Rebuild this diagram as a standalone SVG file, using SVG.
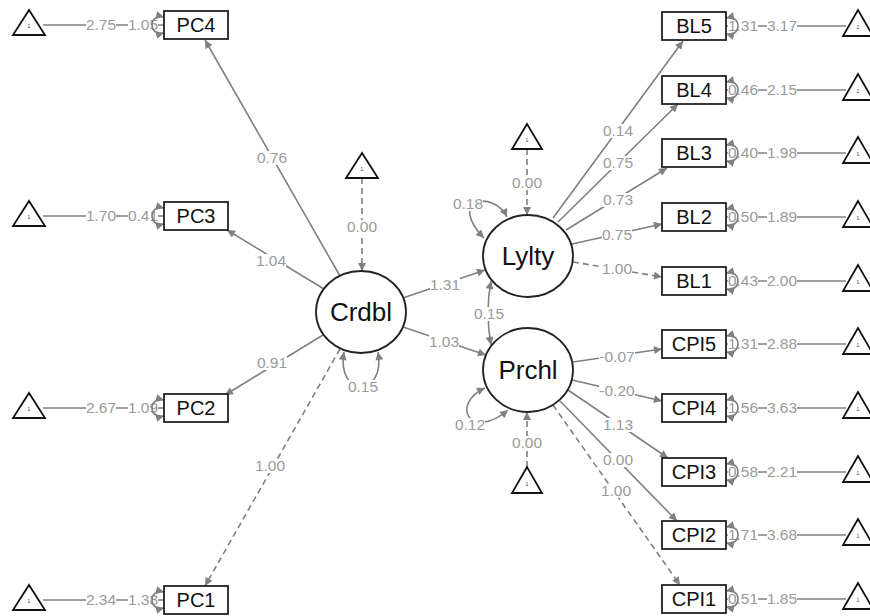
<svg xmlns="http://www.w3.org/2000/svg" width="870" height="616" viewBox="0 0 870 616">
<defs>
<marker id="a" viewBox="0 0 10 10" refX="10" refY="5" markerWidth="10" markerHeight="8" markerUnits="userSpaceOnUse" orient="auto-start-reverse"><path d="M0,0 L10,5 L0,10 z" fill="#808080"/></marker>
</defs>
<style>
.e{stroke:#808080;stroke-width:1.6;fill:none}
.d{stroke-dasharray:6,4}
.ah{marker-end:url(#a)}
.bh{marker-start:url(#a);marker-end:url(#a)}
.bg{fill:#fff}
.lb{font-family:"Liberation Sans",Arial,sans-serif;font-size:15.5px;fill:#9a9a9a;text-anchor:middle}
.box{fill:#fff;stroke:#222;stroke-width:1.8}
.tri{fill:#fff;stroke:#111;stroke-width:1.8}
.lat{fill:#fff;stroke:#222;stroke-width:1.8}
.bt{font-family:"Liberation Sans",Arial,sans-serif;font-size:20px;fill:#111;text-anchor:middle}
.lt{font-family:"Liberation Sans",Arial,sans-serif;font-size:26px;fill:#111;text-anchor:middle}
.one{font-family:"Liberation Sans",Arial,sans-serif;font-size:5px;fill:#333;text-anchor:middle}
</style>
<g id="connectors">
<line class="e" x1="43" y1="25" x2="164" y2="25"/>
<line class="e" x1="43" y1="216" x2="164" y2="216"/>
<line class="e" x1="43" y1="408" x2="164" y2="408"/>
<line class="e" x1="43" y1="600" x2="164" y2="600"/>
<line class="e" x1="726" y1="26" x2="846" y2="26"/>
<line class="e" x1="726" y1="90" x2="846" y2="90"/>
<line class="e" x1="726" y1="153" x2="846" y2="153"/>
<line class="e" x1="726" y1="217" x2="846" y2="217"/>
<line class="e" x1="726" y1="281" x2="846" y2="281"/>
<line class="e" x1="726" y1="344" x2="846" y2="344"/>
<line class="e" x1="726" y1="408" x2="846" y2="408"/>
<line class="e" x1="726" y1="472" x2="846" y2="472"/>
<line class="e" x1="726" y1="535" x2="846" y2="535"/>
<line class="e" x1="726" y1="599" x2="846" y2="599"/>
<line class="e d ah" x1="362" y1="178" x2="362" y2="271"/>
<line class="e d ah" x1="527" y1="149" x2="527" y2="215"/>
<line class="e d ah" x1="527" y1="467" x2="527" y2="412"/>
<line class="e ah" x1="340" y1="276" x2="205" y2="40"/>
<line class="e ah" x1="324" y1="289" x2="227" y2="230"/>
<line class="e ah" x1="323" y1="335" x2="225" y2="395"/>
<line class="e d ah" x1="340" y1="349" x2="205" y2="586"/>
<line class="e ah" x1="403" y1="298" x2="485" y2="270"/>
<line class="e ah" x1="403" y1="327" x2="486" y2="355"/>
<line class="e ah" x1="553" y1="218" x2="683" y2="41"/>
<line class="e ah" x1="558" y1="222" x2="678" y2="104"/>
<line class="e ah" x1="566" y1="230" x2="667" y2="168"/>
<line class="e ah" x1="572" y1="244" x2="662" y2="224"/>
<line class="e d ah" x1="573" y1="262" x2="662" y2="277"/>
<line class="e ah" x1="573" y1="362" x2="662" y2="349"/>
<line class="e ah" x1="572" y1="380" x2="662" y2="401"/>
<line class="e ah" x1="568" y1="390" x2="668" y2="458"/>
<line class="e ah" x1="560" y1="401" x2="677" y2="521"/>
<line class="e d ah" x1="553" y1="405" x2="680" y2="585"/>
<path class="e bh" d="M344,352 C336,398 386,398 378,352"/>
<path class="e bh" d="M507,217 C494,190 446,198 484,238"/>
<path class="e bh" d="M485,388 C450,404 470,442 508,410"/>
<path class="e bh" d="M491,281 Q485,312 491,345"/>
<g class="bg">
<rect x="86" y="18" width="30" height="14"/><rect x="128" y="18" width="30" height="14"/>
<rect x="86" y="209" width="30" height="14"/><rect x="128" y="209" width="30" height="14"/>
<rect x="86" y="401" width="30" height="14"/><rect x="128" y="401" width="30" height="14"/>
<rect x="86" y="593" width="30" height="14"/><rect x="128" y="593" width="30" height="14"/>
<rect x="728" y="19" width="30" height="14"/><rect x="767" y="19" width="30" height="14"/>
<rect x="728" y="83" width="30" height="14"/><rect x="767" y="83" width="30" height="14"/>
<rect x="728" y="146" width="30" height="14"/><rect x="767" y="146" width="30" height="14"/>
<rect x="728" y="210" width="30" height="14"/><rect x="767" y="210" width="30" height="14"/>
<rect x="728" y="274" width="30" height="14"/><rect x="767" y="274" width="30" height="14"/>
<rect x="728" y="337" width="30" height="14"/><rect x="767" y="337" width="30" height="14"/>
<rect x="728" y="401" width="30" height="14"/><rect x="767" y="401" width="30" height="14"/>
<rect x="728" y="465" width="30" height="14"/><rect x="767" y="465" width="30" height="14"/>
<rect x="728" y="528" width="30" height="14"/><rect x="767" y="528" width="30" height="14"/>
<rect x="728" y="592" width="30" height="14"/><rect x="767" y="592" width="30" height="14"/>
<rect x="347" y="220" width="30" height="14"/>
<rect x="512" y="176" width="30" height="14"/>
<rect x="512" y="436" width="30" height="14"/>
<rect x="257" y="151" width="30" height="14"/>
<rect x="256" y="254" width="30" height="14"/>
<rect x="257" y="356" width="30" height="14"/>
<rect x="255" y="459" width="30" height="14"/>
<rect x="430" y="278" width="30" height="14"/>
<rect x="429" y="335" width="30" height="14"/>
<rect x="348" y="380" width="30" height="14"/>
<rect x="474" y="307" width="30" height="14"/>
<rect x="453" y="197" width="30" height="14"/>
<rect x="455" y="418" width="30" height="14"/>
<rect x="603" y="124" width="30" height="14"/>
<rect x="603" y="156" width="30" height="14"/>
<rect x="603" y="193" width="30" height="14"/>
<rect x="602" y="228" width="30" height="14"/>
<rect x="602" y="262" width="30" height="14"/>
<rect x="599" y="350" width="36" height="14"/>
<rect x="599" y="384" width="36" height="14"/>
<rect x="603" y="418" width="30" height="14"/>
<rect x="603" y="453" width="30" height="14"/>
<rect x="601" y="484" width="30" height="14"/>
</g>
<text class="lb" x="101" y="30">2.75</text><text class="lb" x="143" y="30">1.05</text>
<text class="lb" x="101" y="221">1.70</text><text class="lb" x="143" y="221">0.41</text>
<text class="lb" x="101" y="413">2.67</text><text class="lb" x="143" y="413">1.09</text>
<text class="lb" x="101" y="605">2.34</text><text class="lb" x="143" y="605">1.38</text>
<text class="lb" x="743" y="31">1.31</text><text class="lb" x="782" y="31">3.17</text>
<text class="lb" x="743" y="95">0.46</text><text class="lb" x="782" y="95">2.15</text>
<text class="lb" x="743" y="158">0.40</text><text class="lb" x="782" y="158">1.98</text>
<text class="lb" x="743" y="222">0.50</text><text class="lb" x="782" y="222">1.89</text>
<text class="lb" x="743" y="286">0.43</text><text class="lb" x="782" y="286">2.00</text>
<text class="lb" x="743" y="349">1.31</text><text class="lb" x="782" y="349">2.88</text>
<text class="lb" x="743" y="413">1.56</text><text class="lb" x="782" y="413">3.63</text>
<text class="lb" x="743" y="477">0.58</text><text class="lb" x="782" y="477">2.21</text>
<text class="lb" x="743" y="540">1.71</text><text class="lb" x="782" y="540">3.68</text>
<text class="lb" x="743" y="604">0.51</text><text class="lb" x="782" y="604">1.85</text>
<text class="lb" x="362" y="232">0.00</text>
<text class="lb" x="527" y="188">0.00</text>
<text class="lb" x="527" y="448">0.00</text>
<text class="lb" x="272" y="163">0.76</text>
<text class="lb" x="271" y="266">1.04</text>
<text class="lb" x="272" y="368">0.91</text>
<text class="lb" x="270" y="471">1.00</text>
<text class="lb" x="445" y="290">1.31</text>
<text class="lb" x="444" y="347">1.03</text>
<text class="lb" x="363" y="392">0.15</text>
<text class="lb" x="489" y="319">0.15</text>
<text class="lb" x="468" y="209">0.18</text>
<text class="lb" x="470" y="430">0.12</text>
<text class="lb" x="618" y="136">0.14</text>
<text class="lb" x="618" y="168">0.75</text>
<text class="lb" x="618" y="205">0.73</text>
<text class="lb" x="617" y="240">0.75</text>
<text class="lb" x="617" y="274">1.00</text>
<text class="lb" x="617" y="362">-0.07</text>
<text class="lb" x="617" y="396">-0.20</text>
<text class="lb" x="618" y="430">1.13</text>
<text class="lb" x="618" y="465">0.00</text>
<text class="lb" x="616" y="496">1.00</text>
<path class="e bh" d="M164,17 C148,13 148,37 164,33"/>
<path class="e bh" d="M164,208 C148,204 148,228 164,224"/>
<path class="e bh" d="M164,400 C148,396 148,420 164,416"/>
<path class="e bh" d="M164,592 C148,588 148,612 164,608"/>
<path class="e bh" d="M726,18 C742,14 742,38 726,34"/>
<path class="e bh" d="M726,82 C742,78 742,102 726,98"/>
<path class="e bh" d="M726,145 C742,141 742,165 726,161"/>
<path class="e bh" d="M726,209 C742,205 742,229 726,225"/>
<path class="e bh" d="M726,273 C742,269 742,293 726,289"/>
<path class="e bh" d="M726,336 C742,332 742,356 726,352"/>
<path class="e bh" d="M726,400 C742,396 742,420 726,416"/>
<path class="e bh" d="M726,464 C742,460 742,484 726,480"/>
<path class="e bh" d="M726,527 C742,523 742,547 726,543"/>
<path class="e bh" d="M726,591 C742,587 742,611 726,607"/>
</g>
<g id="Crdbl"><ellipse class="lat" cx="361" cy="312" rx="45" ry="41"/><text class="lt" x="361" y="321">Crdbl</text></g>
<g id="Lylty"><ellipse class="lat" cx="528" cy="256" rx="45" ry="41"/><text class="lt" x="528" y="265">Lylty</text></g>
<g id="Prchl"><ellipse class="lat" cx="528" cy="370" rx="45" ry="42"/><text class="lt" x="528" y="379">Prchl</text></g>
<g id="PC4"><rect class="box" x="164" y="11" width="64" height="28"/><text class="bt" x="196" y="32">PC4</text></g>
<g id="PC3"><rect class="box" x="164" y="202" width="64" height="28"/><text class="bt" x="196" y="223">PC3</text></g>
<g id="PC2"><rect class="box" x="164" y="394" width="64" height="28"/><text class="bt" x="196" y="415">PC2</text></g>
<g id="PC1"><rect class="box" x="164" y="586" width="64" height="28"/><text class="bt" x="196" y="607">PC1</text></g>
<g id="BL5"><rect class="box" x="662" y="12" width="64" height="28"/><text class="bt" x="694" y="33">BL5</text></g>
<g id="BL4"><rect class="box" x="662" y="76" width="64" height="28"/><text class="bt" x="694" y="97">BL4</text></g>
<g id="BL3"><rect class="box" x="662" y="139" width="64" height="28"/><text class="bt" x="694" y="160">BL3</text></g>
<g id="BL2"><rect class="box" x="662" y="203" width="64" height="28"/><text class="bt" x="694" y="224">BL2</text></g>
<g id="BL1"><rect class="box" x="662" y="267" width="64" height="28"/><text class="bt" x="694" y="288">BL1</text></g>
<g id="CPI5"><rect class="box" x="662" y="330" width="64" height="28"/><text class="bt" x="694" y="351">CPI5</text></g>
<g id="CPI4"><rect class="box" x="662" y="394" width="64" height="28"/><text class="bt" x="694" y="415">CPI4</text></g>
<g id="CPI3"><rect class="box" x="662" y="458" width="64" height="28"/><text class="bt" x="694" y="479">CPI3</text></g>
<g id="CPI2"><rect class="box" x="662" y="521" width="64" height="28"/><text class="bt" x="694" y="542">CPI2</text></g>
<g id="CPI1"><rect class="box" x="662" y="585" width="64" height="28"/><text class="bt" x="694" y="606">CPI1</text></g>
<g id="int_PC4"><polygon class="tri" points="29,10 13,35 45,35"/><text class="one" x="29" y="28">1</text></g>
<g id="int_PC3"><polygon class="tri" points="29,201 13,226 45,226"/><text class="one" x="29" y="219">1</text></g>
<g id="int_PC2"><polygon class="tri" points="29,393 13,418 45,418"/><text class="one" x="29" y="411">1</text></g>
<g id="int_PC1"><polygon class="tri" points="29,585 13,610 45,610"/><text class="one" x="29" y="603">1</text></g>
<g id="int_Crdbl"><polygon class="tri" points="362,153 346,178 378,178"/><text class="one" x="362" y="171">1</text></g>
<g id="int_Lylty"><polygon class="tri" points="527,124 512,149 542,149"/><text class="one" x="527" y="142">1</text></g>
<g id="int_Prchl"><polygon class="tri" points="527,467 512,493 542,493"/><text class="one" x="527" y="486">1</text></g>
<g id="int_BL5"><polygon class="tri" points="858,10 843,36 873,36"/><text class="one" x="858" y="29">1</text></g>
<g id="int_BL4"><polygon class="tri" points="858,74 843,100 873,100"/><text class="one" x="858" y="93">1</text></g>
<g id="int_BL3"><polygon class="tri" points="858,137 843,163 873,163"/><text class="one" x="858" y="156">1</text></g>
<g id="int_BL2"><polygon class="tri" points="858,201 843,227 873,227"/><text class="one" x="858" y="220">1</text></g>
<g id="int_BL1"><polygon class="tri" points="858,265 843,291 873,291"/><text class="one" x="858" y="284">1</text></g>
<g id="int_CPI5"><polygon class="tri" points="858,328 843,354 873,354"/><text class="one" x="858" y="347">1</text></g>
<g id="int_CPI4"><polygon class="tri" points="858,392 843,418 873,418"/><text class="one" x="858" y="411">1</text></g>
<g id="int_CPI3"><polygon class="tri" points="858,456 843,482 873,482"/><text class="one" x="858" y="475">1</text></g>
<g id="int_CPI2"><polygon class="tri" points="858,519 843,545 873,545"/><text class="one" x="858" y="538">1</text></g>
<g id="int_CPI1"><polygon class="tri" points="858,583 843,609 873,609"/><text class="one" x="858" y="602">1</text></g>
</svg>
